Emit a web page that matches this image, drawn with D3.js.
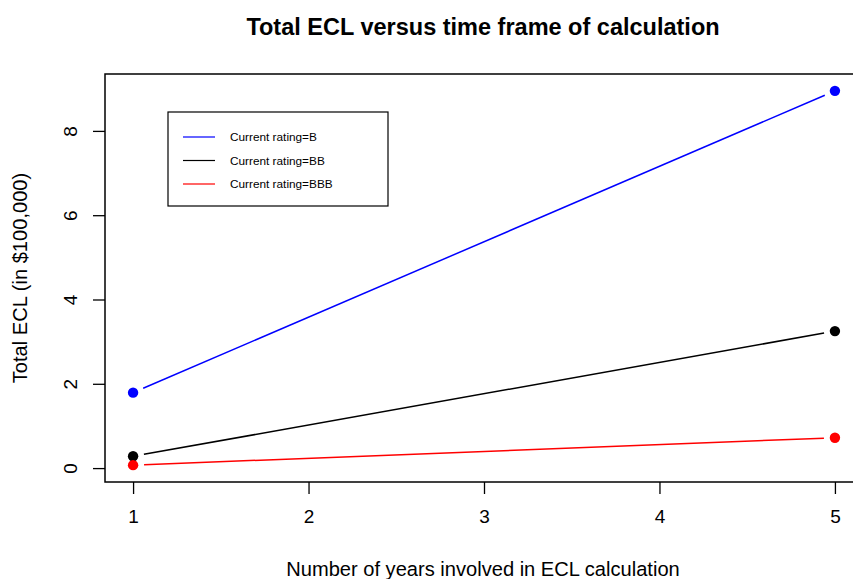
<!DOCTYPE html>
<html><head><meta charset="utf-8">
<script src="https://cdn.jsdelivr.net/npm/d3@7"></script>
<style>body{margin:0;background:#fff}svg{display:block}text{font-family:"Liberation Sans",Arial,sans-serif}</style>
</head><body>
<script>
const years = [1, 5];
const seriesNames = ["Current rating=B", "Current rating=BB", "Current rating=BBB"];
const seriesColors = ["#0000ff", "#000000", "#ff0000"];
const valuesB = [1.79, 8.95];
const valuesBB = [0.28, 3.25];
const valuesBBB = [0.07, 0.72];
const xTicks = [1, 2, 3, 4, 5];
const yTicks = [0, 2, 4, 6, 8];
const series = [valuesB, valuesBB, valuesBBB];

const W = 853, H = 579;
const svg = d3.select("body").append("svg").attr("width", W).attr("height", H);
const L = 105, R = 863, T = 74, B = 482;
const x = d3.scaleLinear().domain([0.84, 5.16]).range([L, R]);
const y = d3.scaleLinear().domain([-0.33, 9.35]).range([B, T]);

svg.append("rect").attr("x", L).attr("y", T).attr("width", R - L).attr("height", B - T)
  .attr("fill", "none").attr("stroke", "#000").attr("stroke-width", 1.5);

const xa = svg.append("g").attr("transform", `translate(0,${B})`)
  .call(d3.axisBottom(x).tickValues(xTicks).tickSize(12).tickPadding(16).tickFormat(d3.format("d")));
xa.select(".domain").remove();
xa.selectAll("line").attr("stroke-width", 1.3);
xa.selectAll("text").attr("font-size", 19).attr("fill", "#000");

const ya = svg.append("g").attr("transform", `translate(${L},0)`)
  .call(d3.axisLeft(y).tickValues(yTicks).tickSize(12).tickFormat(d3.format("d")));
ya.select(".domain").remove();
ya.selectAll("line").attr("stroke-width", 1.3);
ya.selectAll("text").attr("font-size", 19).attr("fill", "#000")
  .attr("text-anchor", "middle").attr("dy", null).attr("x", null)
  .attr("transform", "translate(-35,0) rotate(-90)").attr("dy", "0.35em");

const gap = 11;
series.forEach((vals, i) => {
  const x0 = x(years[0]), y0 = y(vals[0]), x1 = x(years[1]), y1 = y(vals[1]);
  const dx = x1 - x0, dy = y1 - y0, len = Math.hypot(dx, dy);
  const ux = dx / len, uy = dy / len;
  svg.append("line")
    .attr("x1", x0 + ux * gap).attr("y1", y0 + uy * gap)
    .attr("x2", x1 - ux * gap).attr("y2", y1 - uy * gap)
    .attr("stroke", seriesColors[i]).attr("stroke-width", 1.5);
  svg.selectAll(null).data(years).enter().append("circle")
    .attr("cx", d => x(d)).attr("cy", (d, j) => y(vals[j])).attr("r", 5.2)
    .attr("fill", seriesColors[i]);
});

// legend
const lg = svg.append("g");
lg.append("rect").attr("x", 168).attr("y", 112).attr("width", 220).attr("height", 94)
  .attr("fill", "#fff").attr("stroke", "#000").attr("stroke-width", 1.2);
seriesNames.forEach((n, i) => {
  const yy = 137 + i * 23.5;
  lg.append("line").attr("x1", 183).attr("x2", 215).attr("y1", yy).attr("y2", yy)
    .attr("stroke", seriesColors[i]).attr("stroke-width", 1.2);
  lg.append("text").attr("x", 230).attr("y", yy).attr("dy", "0.35em")
    .attr("font-size", 11.8).text(n);
});

svg.append("text").attr("x", 483).attr("y", 35).attr("text-anchor", "middle")
  .attr("font-size", 23.5).attr("font-weight", "bold").text("Total ECL versus time frame of calculation");
svg.append("text").attr("x", 483).attr("y", 576).attr("text-anchor", "middle")
  .attr("font-size", 20.1).text("Number of years involved in ECL calculation");
svg.append("text").attr("transform", "translate(27,278) rotate(-90)").attr("text-anchor", "middle")
  .attr("font-size", 20.1).text("Total ECL (in $100,000)");
</script>
</body></html>
